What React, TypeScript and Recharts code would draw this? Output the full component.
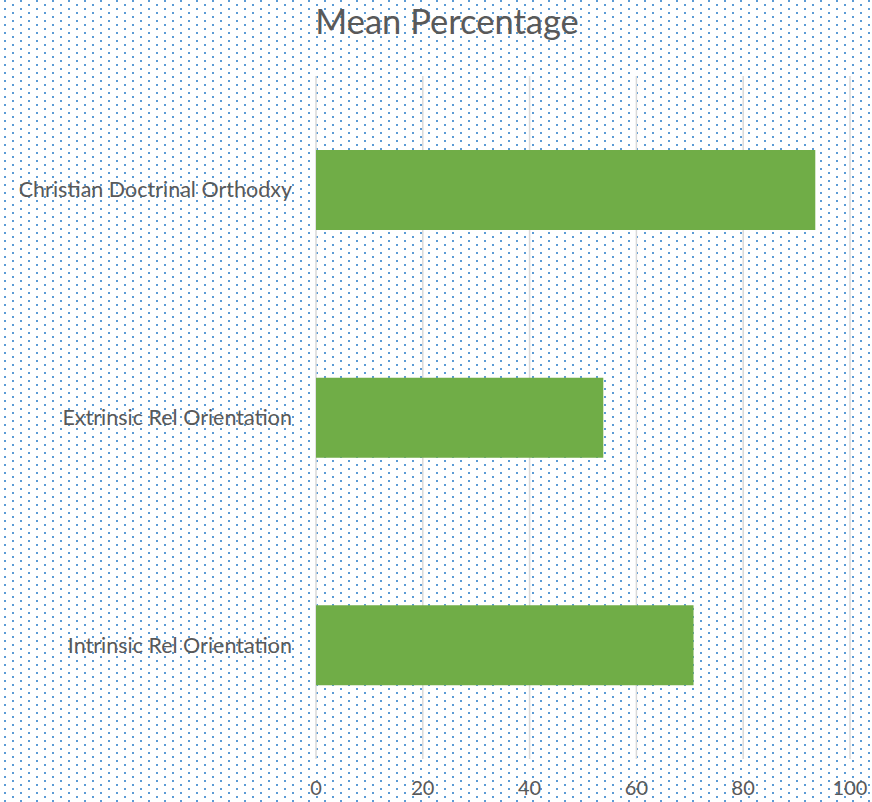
import React from "react";
import { BarChart, Bar, XAxis, YAxis, CartesianGrid } from "recharts";

const categories = ["Christian Doctrinal Orthodxy", "Extrinsic Rel Orientation", "Intrinsic Rel Orientation"];
const meanPercentage = [93.5, 53.8, 70.7];
const xTicks = [0, 20, 40, 60, 80, 100];

const data = categories.map((name, i) => ({ name, value: meanPercentage[i] }));

const dots =
  "data:image/svg+xml," +
  encodeURIComponent(
    '<svg xmlns="http://www.w3.org/2000/svg" width="16" height="8"><rect x="4" y="0" width="2" height="2" fill="#5b9bd5"/><rect x="12" y="4" width="2" height="2" fill="#5b9bd5"/></svg>'
  );

const FONT = "Lato, 'Open Sans', sans-serif";

export default function App() {
  return (
    <div
      style={{
        position: "absolute",
        left: 0,
        top: 0,
        width: 872,
        height: 802,
        backgroundColor: "#fff",
        backgroundImage: `url("${dots}")`,
        backgroundSize: "16px 8px",
        fontFamily: FONT,
      }}
    >
      <div
        style={{
          position: "absolute",
          left: 0,
          width: 894,
          top: 1,
          textAlign: "center",
          fontSize: 34.5,
          color: "#595959",
          lineHeight: "40px",
        }}
      >
        Mean Percentage
      </div>
      <BarChart
        width={872}
        height={802}
        data={data}
        layout="vertical"
        margin={{ top: 76, right: 22, bottom: 0, left: 0 }}
        barSize={80}
      >
        <CartesianGrid horizontal={false} stroke="#d9d9d9" strokeWidth={1.5} />
        <XAxis
          type="number"
          domain={[0, 100]}
          ticks={xTicks}
          axisLine={false}
          tickLine={false}
          height={43}
          tickMargin={16}
          tick={{ fontSize: 20, fill: "#595959", fontFamily: FONT }}
        />
        <YAxis
          type="category"
          dataKey="name"
          width={316}
          axisLine={false}
          tickLine={false}
          tickMargin={18}
          tick={{ fontSize: 21.5, fill: "#595959", fontFamily: FONT }}
        />
        <Bar dataKey="value" fill="#70ad47" isAnimationActive={false} />
      </BarChart>
    </div>
  );
}
